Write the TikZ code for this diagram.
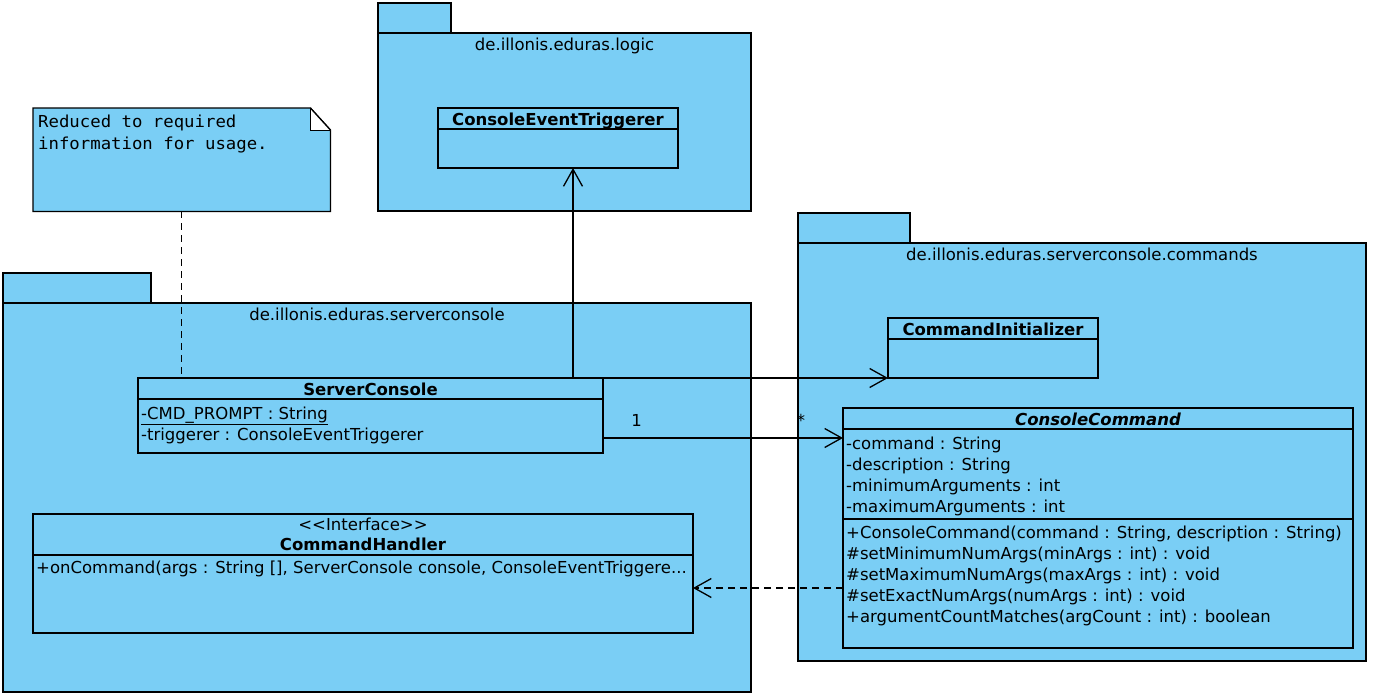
\documentclass[tikz,border=0pt]{standalone}
\usepackage{fontspec}
\setmainfont{DejaVu Sans}
\newfontfamily\notefont[FakeStretch=1.05]{DejaVu Sans Mono}
\usepackage{tikz}
\usetikzlibrary{positioning}
\usetikzlibrary{arrows.meta}
\definecolor{umlblue}{RGB}{122,206,245}

\tikzset{
  box/.style={draw, fill=umlblue, line width=1.3pt, anchor=north west, inner sep=0pt, outer sep=0pt},
  txt/.style={anchor=base west, inner sep=0pt, font=\fontsize{16.5}{21}\selectfont},
  ctxt/.style={anchor=base, inner sep=0pt, font=\fontsize{16.5}{21}\selectfont},
  hdr/.style={ctxt, font=\fontsize{16.5}{21}\selectfont\bfseries},
  notetxt/.style={anchor=base west, inner sep=0pt, font=\notefont\fontsize{16.5}{21}\selectfont},
  sepline/.style={line width=1.3pt},
  openarrow/.style={line width=1.3pt, -{Straight Barb[length=17pt, width=19pt, line width=1.3pt]}},
  dashline/.style={line width=1.4pt, dash pattern=on 7pt off 5pt},
}

\begin{document}
\begin{tikzpicture}[x=1pt, y=-1pt]
  \fill[white] (0,0) rectangle (1374,699);
  \useasboundingbox (0,0) rectangle (1374,699);

  % packages
  \node[box, minimum width=748pt, minimum height=389pt] (srvpkg) at (3,303) {};
  \node[box, minimum width=148pt, minimum height=30pt, above right=0pt and 0pt of srvpkg.north west] (srvtab) {};
  \node[ctxt] at ([yshift=-17pt]srvpkg.north) {de.illonis.eduras.serverconsole};

  \node[box, minimum width=373pt, minimum height=178pt] (lgcpkg) at (378,33) {};
  \node[box, minimum width=73pt, minimum height=30pt, above right=0pt and 0pt of lgcpkg.north west] (lgctab) {};
  \node[ctxt] at ([yshift=-17pt]lgcpkg.north) {de.illonis.eduras.logic};

  \node[box, minimum width=568pt, minimum height=418pt] (cmdpkg) at (798,243) {};
  \node[box, minimum width=112pt, minimum height=30pt, above right=0pt and 0pt of cmdpkg.north west] (cmdtab) {};
  \node[ctxt] at ([yshift=-17pt]cmdpkg.north) {de.illonis.eduras.serverconsole.commands};

  % note
  \node[inner sep=0pt, minimum width=297pt, minimum height=103pt, anchor=north west] (note) at (33,108) {};
  \draw[fill=umlblue, line width=1.3pt] (note.north west) -- ([xshift=-20pt]note.north east)
    -- ([yshift=-22pt]note.north east) -- (note.south east) -- (note.south west) -- cycle;
  \draw[fill=white, line width=0.8pt] ([xshift=-20pt]note.north east) -- ([xshift=-20pt,yshift=-22pt]note.north east)
    -- ([yshift=-22pt]note.north east);
  \draw[line width=1.3pt] ([xshift=-20pt]note.north east) -- ([yshift=-22pt]note.north east);
  \node[notetxt] at ([xshift=5pt,yshift=-19pt]note.north west) {Reduced to required};
  \node[notetxt] at ([xshift=5pt,yshift=-41pt]note.north west) {information for usage.};

  % classes
  \node[box, minimum width=240pt, minimum height=60pt] (cet) at (438,108) {};
  \node[hdr] at ([yshift=-17pt]cet.north) {ConsoleEventTriggerer};

  \node[box, minimum width=210pt, minimum height=60pt] (ini) at (888,318) {};
  \node[hdr] at ([yshift=-17pt]ini.north) {CommandInitializer};

  \node[box, minimum width=465pt, minimum height=75pt] (srv) at (138,378) {};
  \node[hdr] at ([yshift=-17pt]srv.north) {ServerConsole};
  \node[txt] at ([xshift=3pt,yshift=-41pt]srv.north west) {\underline{-CMD\_PROMPT : String}};
  \node[txt] at ([xshift=3pt,yshift=-62pt]srv.north west) {-triggerer : ConsoleEventTriggerer};

  \node[box, minimum width=510pt, minimum height=240pt] (cmd) at (843,408) {};
  \node[hdr, font=\fontsize{16.5}{21}\selectfont\bfseries\itshape] at ([yshift=-17pt]cmd.north) {ConsoleCommand};
  \foreach \t [count=\i from 0] in {-command : String, -description : String,
      -minimumArguments : int, -maximumArguments : int}
    \node[txt] at ([xshift=3pt,yshift=-41pt-21pt*\i]cmd.north west) {\t};
  \foreach \t [count=\i from 0] in {{+ConsoleCommand(command : String, description : String)},
      \#setMinimumNumArgs(minArgs : int) : void, \#setMaximumNumArgs(maxArgs : int) : void,
      \#setExactNumArgs(numArgs : int) : void, +argumentCountMatches(argCount : int) : boolean}
    \node[txt] at ([xshift=3pt,yshift=-130pt-21pt*\i]cmd.north west) {\t};

  \node[box, minimum width=660pt, minimum height=119pt] (ch) at (33,514) {};
  \node[ctxt] at ([yshift=-16pt]ch.north) {{<}{<}Interface{>}{>}};
  \node[hdr] at ([yshift=-36pt]ch.north) {CommandHandler};
  \node[txt] at ([xshift=3pt,yshift=-59pt]ch.north west) {+onCommand(args : String [], ServerConsole console, ConsoleEventTriggere...};

  \foreach \n/\d in {cet/21, ini/21, srv/21, cmd/21, cmd/111, ch/41}
    \draw[sepline] ([yshift=-\d pt]\n.north west) -- ([yshift=-\d pt]\n.north east);

  % connectors
  \draw[dashline] (note.south) -- (note.south |- srv.north);
  \coordinate (s1) at ([xshift=-30pt]srv.north east);
  \draw[openarrow] (s1) -- (s1 |- cet.south);
  \draw[openarrow] (srv.north east) -- (ini.south west);
  \coordinate (s2) at ([yshift=-22.5pt]srv.east);
  \draw[openarrow] (s2) -- (s2 -| cmd.west)
    node[ctxt, pos=0.14, yshift=12pt] {1}
    node[ctxt, pos=0.825, yshift=12pt] {*};
  \coordinate (c1) at ([yshift=-60pt]cmd.west);
  \draw[openarrow, dash pattern=on 7pt off 5pt] (c1) -- (c1 -| ch.east);
\end{tikzpicture}
\end{document}
